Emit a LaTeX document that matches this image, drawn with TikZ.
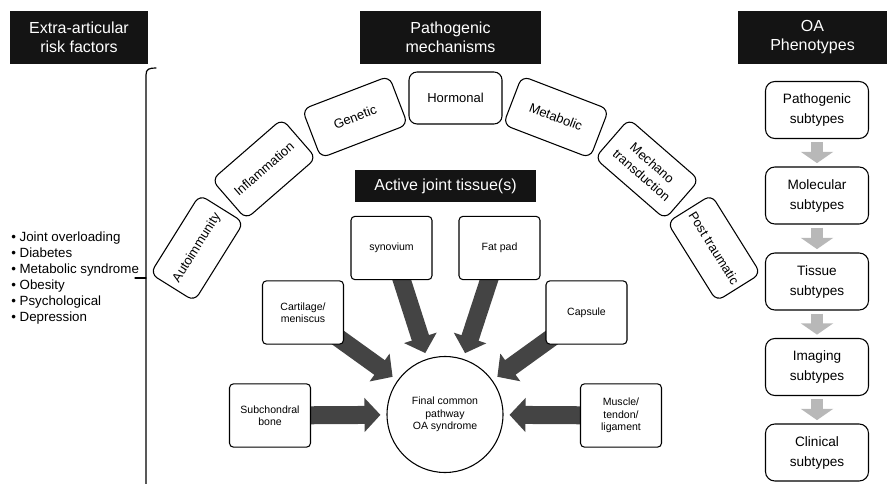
\documentclass[tikz,border=0pt]{standalone}
\usepackage{fontspec}
\setmainfont{Liberation Sans}
\usetikzlibrary{arrows.meta,backgrounds}
\definecolor{hdr}{HTML}{141414}
\definecolor{darr}{HTML}{444444}
\definecolor{garr}{HTML}{B8B8B8}
\begin{document}
\begin{tikzpicture}[x=0.75pt,y=-0.75pt,
  hdrbox/.style={fill=hdr, text=white, font=\fontsize{12}{14.25}\selectfont, align=center, inner sep=0pt},
  arcbox/.style={draw, line width=0.8pt, rounded corners=6pt, minimum width=69.75pt, minimum height=39pt,
    font=\fontsize{9.75}{12}\selectfont, align=center, inner sep=1pt, fill=white},
  tissue/.style={draw, line width=0.8pt, rounded corners=3pt, minimum width=60.75pt, minimum height=47.5pt,
    font=\fontsize{7.9}{9.2}\selectfont, align=center, inner sep=1pt, fill=white},
  phen/.style={draw, line width=0.8pt, rounded corners=7pt, minimum width=77.25pt, minimum height=42.75pt,
    font=\fontsize{10.2}{15}\selectfont, align=center, inner sep=1pt},
  fcp/.style={draw, line width=0.8pt, circle, minimum size=87pt, font=\fontsize{7.9}{9.4}\selectfont,
    align=center, inner sep=0pt, fill=white},
  bigarrow/.style={draw=darr, line width=13.5pt, -{Triangle[length=12pt,width=25pt]}, shorten >=4.5pt},
  grayarrow/.style={draw=garr, line width=9pt, -{Triangle[length=8.5pt,width=24pt]}, shorten <=2.25pt, shorten >=2.5pt},
  bracket/.style={line width=0.9pt, line cap=round}
]
\useasboundingbox (0,0) rectangle (887,484);

% headers
\node[hdrbox, minimum width=103.5pt, minimum height=39.75pt] (h1) at (79,37.5) {Extra-articular\\risk factors};
\node[hdrbox, minimum width=135.75pt, minimum height=39.75pt] (h2) at (450.5,37.5) {Pathogenic\\mechanisms};
\node[hdrbox, minimum width=111.75pt, minimum height=39.75pt] (h3) at (812.5,37.5) {OA\\Phenotypes};
\node[hdrbox, minimum width=135.75pt, minimum height=24pt] (h4) at (445.5,186) {Active joint tissue(s)};

% risk factors list
\node[anchor=west, align=left, inner sep=0pt, font=\fontsize{10}{12}\selectfont] (risk) at (11,278)
  {• Joint overloading\\• Diabetes\\• Metabolic syndrome\\• Obesity\\• Psychological\\• Depression};

% bracket
\draw[bracket] (156,68) .. controls (149,68) and (146,69) .. (146,75) -- (146,488);
\draw[bracket] (135,278) -- (146,278);

% pathogenic mechanisms arc
\node[arcbox, rotate=58] (auto) at (197,248) {Autoimmunity};
\node[arcbox, rotate=41] (infl) at (264,169) {Inflammation};
\node[arcbox, rotate=21] (gene) at (355,117) {Genetic};
\node[arcbox] (horm) at (455.5,98) {Hormonal};
\node[arcbox, rotate=-21] (meta) at (556,117) {Metabolic};
\node[arcbox, rotate=-41] (mech) at (647,169) {Mechano\\transduction};
\node[arcbox, rotate=-58] (post) at (714,248) {Post traumatic};

% tissues
\node[tissue] (syn) at (391.5,248) {synovium};
\node[tissue] (fat) at (499.5,248) {Fat pad};
\node[tissue] (car) at (303,312.5) {Cartilage/\\meniscus};
\node[tissue] (cap) at (586.5,312.5) {Capsule};
\node[tissue] (sub) at (270,415.5) {Subchondral\\bone};
\node[tissue] (mus) at (621,415.5) {Muscle/\\tendon/\\ligament};
\node[fcp] (fin) at (445,414.5) {Final common\\pathway\\OA syndrome};

% phenotypes
\node[phen] (p1) at (817,110) {Pathogenic\\subtypes};
\node[phen] (p2) at (817,195.5) {Molecular\\subtypes};
\node[phen] (p3) at (817,281.5) {Tissue\\subtypes};
\node[phen] (p4) at (817,367) {Imaging\\subtypes};
\node[phen] (p5) at (817,452.5) {Clinical\\subtypes};

\begin{pgfonlayer}{background}
\foreach \t in {syn,fat,car,cap,sub,mus}
  \draw[bigarrow] (\t.center) -- (fin);
\end{pgfonlayer}

\draw[grayarrow] (p1) -- (p2);
\draw[grayarrow] (p2) -- (p3);
\draw[grayarrow] (p3) -- (p4);
\draw[grayarrow] (p4) -- (p5);
\end{tikzpicture}
\end{document}
